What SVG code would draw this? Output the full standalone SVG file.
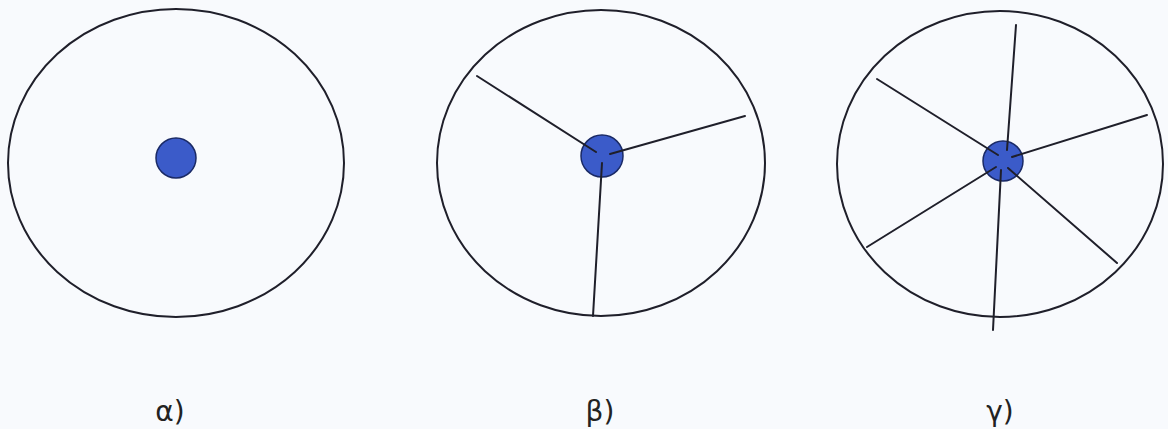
<svg xmlns="http://www.w3.org/2000/svg" width="1168" height="429" viewBox="0 0 1168 429">
<style>
.ring{fill:none;stroke:#1f1f2a;stroke-width:2}
.dot{fill:#3b5bc9;stroke:#1a2a66;stroke-width:1.5}
.spoke{stroke:#1f1f2a;stroke-width:2;stroke-linecap:round}
.lbl{font-family:"DejaVu Sans",sans-serif;font-size:28px;fill:#222;text-anchor:middle}
</style>
<rect width="1168" height="429" fill="#f8fafd"/>
<g id="node-a">
<ellipse class="ring" cx="176" cy="163" rx="168" ry="154"/>
<circle class="dot" cx="176" cy="158" r="20"/>
<text class="lbl" x="170" y="421">α)</text>
</g>
<g id="node-b">
<ellipse class="ring" cx="601" cy="163" rx="164" ry="153"/>
<circle class="dot" cx="602" cy="156" r="21"/>
<text class="lbl" x="600" y="421">β)</text>
</g>
<g id="node-c">
<ellipse class="ring" cx="1000" cy="164" rx="163" ry="153"/>
<circle class="dot" cx="1003" cy="161" r="20"/>
<text class="lbl" x="1000" y="421">γ)</text>
</g>
<g id="connectors">
<line class="spoke" x1="477" y1="76" x2="596" y2="152"/>
<line class="spoke" x1="745" y1="116" x2="610" y2="154"/>
<line class="spoke" x1="593" y1="316" x2="602" y2="163"/>
<line class="spoke" x1="1016" y1="25" x2="1007" y2="150"/>
<line class="spoke" x1="877" y1="79" x2="998" y2="155"/>
<line class="spoke" x1="1147" y1="115" x2="1012" y2="157"/>
<line class="spoke" x1="1117" y1="263" x2="1008" y2="168"/>
<line class="spoke" x1="867" y1="247" x2="996" y2="167"/>
<line class="spoke" x1="993" y1="330" x2="1001" y2="170"/>
</g>
</svg>
